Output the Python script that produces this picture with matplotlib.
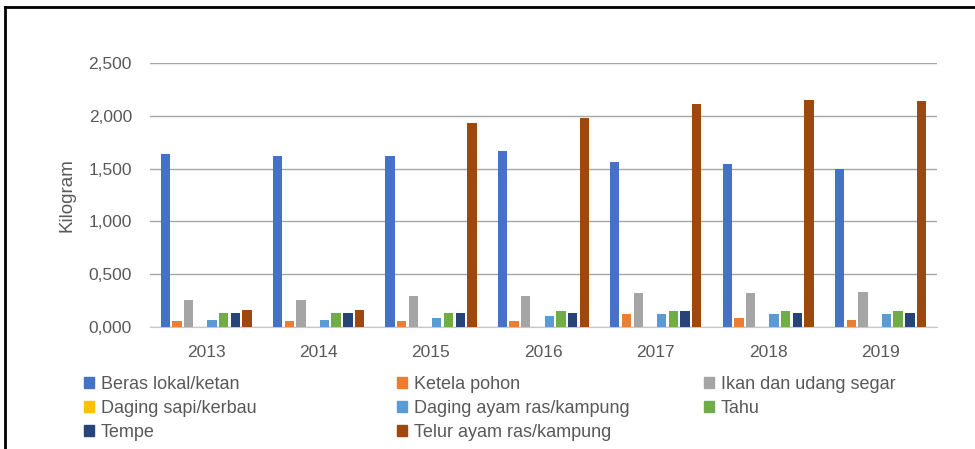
import matplotlib.pyplot as plt
import matplotlib.ticker as mticker
from matplotlib.lines import Line2D
import numpy as np

plt.rcParams['font.family'] = ['Liberation Sans Narrow', 'Liberation Sans', 'DejaVu Sans']

years = ['2013', '2014', '2015', '2016', '2017', '2018', '2019']
series_names = ['Beras lokal/ketan', 'Ketela pohon', 'Ikan dan udang segar',
                'Daging sapi/kerbau', 'Daging ayam ras/kampung', 'Tahu',
                'Tempe', 'Telur ayam ras/kampung']
beras = [1.64, 1.62, 1.62, 1.67, 1.56, 1.54, 1.50]
ketela = [0.06, 0.06, 0.06, 0.06, 0.12, 0.085, 0.07]
ikan = [0.26, 0.26, 0.29, 0.29, 0.32, 0.32, 0.33]
daging_sapi = [0.003, 0.003, 0.003, 0.003, 0.003, 0.003, 0.003]
daging_ayam = [0.07, 0.07, 0.085, 0.10, 0.12, 0.12, 0.12]
tahu = [0.13, 0.13, 0.13, 0.15, 0.15, 0.15, 0.15]
tempe = [0.13, 0.13, 0.13, 0.13, 0.15, 0.13, 0.13]
telur = [0.16, 0.16, 1.93, 1.98, 2.11, 2.15, 2.14]

colors = ['#4472C4', '#ED7D31', '#A5A5A5', '#FFC000',
          '#5B9BD5', '#70AD47', '#264478', '#9E480E']
all_series = [beras, ketela, ikan, daging_sapi, daging_ayam, tahu, tempe, telur]

fig = plt.figure(figsize=(9.75, 4.49), dpi=100)
ax = fig.add_axes([0.1538, 0.2717, 0.807, 0.588])

x = np.arange(len(years))
n = len(all_series)
pitch = 0.833 / n
for i, (vals, c) in enumerate(zip(all_series, colors)):
  ax.bar(x - 0.4165 + pitch * (i + 0.5), vals, width=pitch * 0.8, color=c, zorder=3)

ax.set_xlim(-0.5, len(years) - 0.5)
ax.set_ylim(0, 2.5)
ax.set_xticks(x)
ax.set_xticklabels(years)
ax.set_yticks(np.arange(0, 2.51, 0.5))
ax.yaxis.set_major_formatter(mticker.FuncFormatter(lambda v, p: f"{v:.3f}".replace('.', ',')))
ax.tick_params(axis='both', length=0, labelsize=12.5, colors='#595959')
ax.tick_params(axis='y', pad=13)
ax.tick_params(axis='x', pad=13)
ax.grid(axis='y', color='#a6a6a6', linewidth=1, zorder=0)
for s in ['top', 'right', 'left']:
  ax.spines[s].set_visible(False)
ax.spines['bottom'].set_color('#c8c8c8')
ax.set_ylabel('Kilogram', fontsize=13.5, color='#595959', labelpad=9)

# legend, three columns laid out row by row
col_x = [0.086, 0.407, 0.722]
cols = [[0, 3, 6], [1, 4, 7], [2, 5]]
for cx, idx in zip(col_x, cols):
  handles = [plt.Rectangle((0, 0), 1, 1, color=colors[k]) for k in idx]
  labels = [series_names[k] for k in idx]
  fig.legend(handles, labels, loc='upper left', bbox_to_anchor=(cx, 0.163),
             frameon=False, fontsize=13, handlelength=0.55, handleheight=0.55,
             handletextpad=0.4, labelspacing=0.4, labelcolor='#595959',
             borderpad=0, borderaxespad=0)

# screenshot frame on left and top
fig.add_artist(Line2D([0.005, 0.005], [0, 0.985], color='black', linewidth=2,
                      transform=fig.transFigure))
fig.add_artist(Line2D([0.005, 1], [0.985, 0.985], color='black', linewidth=2,
                      transform=fig.transFigure))

fig.savefig('out.png', dpi=100)
